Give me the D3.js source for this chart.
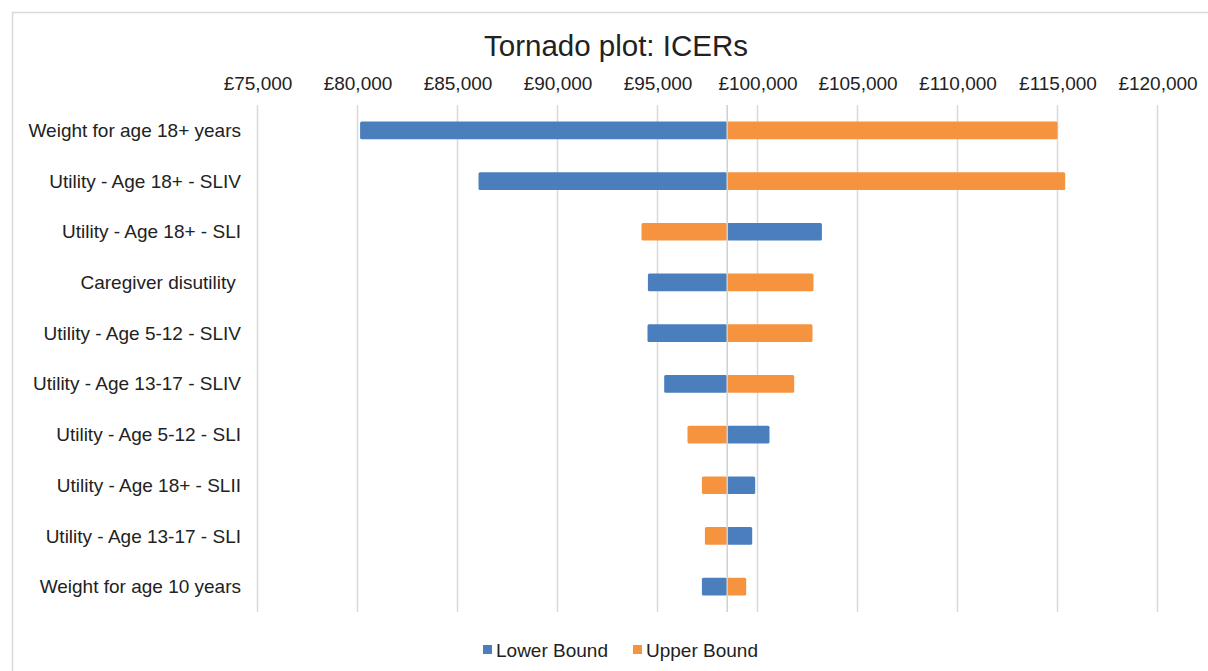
<!DOCTYPE html>
<html>
<head>
<meta charset="utf-8">
<script src="https://cdn.jsdelivr.net/npm/d3@7"></script>
<style>
  html, body { margin: 0; padding: 0; background: #ffffff; }
  svg { display: block; }
  text { font-family: "Liberation Sans", Arial, sans-serif; fill: #222222; white-space: pre; }
</style>
</head>
<body>
<svg id="chart" width="1208" height="671"></svg>
<script>
const title = "Tornado plot: ICERs";
const categories = [
  "Weight for age 18+ years",
  "Utility - Age 18+ - SLIV",
  "Utility - Age 18+ - SLI",
  "Caregiver disutility ",
  "Utility - Age 5-12 - SLIV",
  "Utility - Age 13-17 - SLIV",
  "Utility - Age 5-12 - SLI",
  "Utility - Age 18+ - SLII",
  "Utility - Age 13-17 - SLI",
  "Weight for age 10 years"
];
const lowerBound = [80130, 86050, 103220, 94520, 94500, 95335, 100600, 99885, 99735, 97220];
const upperBound = [115000, 115385, 94200, 102800, 102750, 101835, 96500, 97220, 97370, 99435];
const baseCase = 98485;
const tickValues = [75000, 80000, 85000, 90000, 95000, 100000, 105000, 110000, 115000, 120000];
const seriesNames = ["Lower Bound", "Upper Bound"];
const seriesColors = ["#4a7ebd", "#f5933f"];

const svg = d3.select("#chart");
const W = 1208, H = 671;
const plot = { left: 257.5, right: 1157.5, top: 105, bottom: 612 };
const FS = "19px";

// frame
svg.append("rect").attr("x", 12.5).attr("y", 12.5).attr("width", W + 20).attr("height", H + 20)
  .attr("fill", "none").attr("stroke", "#d9d9d9").attr("stroke-width", 1.5);

const x = d3.scaleLinear().domain([75000, 120000]).range([plot.left, plot.right]);
const y = d3.scaleBand().domain(categories).range([plot.top, plot.bottom]).paddingInner(0.65).paddingOuter(0.325);

// gridlines
svg.append("g").selectAll("line").data(tickValues).join("line")
  .attr("x1", d => x(d)).attr("x2", d => x(d))
  .attr("y1", plot.top).attr("y2", plot.bottom)
  .attr("stroke", "#d9d9d9").attr("stroke-width", 1.5);

// top axis labels
const fmt = v => "£" + d3.format(",")(v);
const xAxis = d3.axisTop(x).tickValues(tickValues).tickFormat(fmt).tickSize(0).tickPadding(0);
const gx = svg.append("g").attr("transform", `translate(0,${90})`).call(xAxis);
gx.select(".domain").remove();
gx.selectAll("text").attr("font-size", FS).attr("fill", "#222")
  .attr("font-family", "'Liberation Sans', Arial, sans-serif").attr("dy", 0);

// bars
const rows = categories.map((c, i) => ({ c, lo: lowerBound[i], hi: upperBound[i] }));
const barG = svg.append("g");
[ ["lo", 0], ["hi", 1] ].forEach(([key, si]) => {
  barG.selectAll(".b" + key).data(rows).join("rect")
    .attr("x", d => Math.min(x(d[key]), x(baseCase)))
    .attr("width", d => Math.abs(x(d[key]) - x(baseCase)))
    .attr("y", d => y(d.c))
    .attr("height", y.bandwidth())
    .attr("rx", 1.5)
    .attr("fill", seriesColors[si]);
});

// vertical axis (base line)
svg.append("line").attr("x1", x(baseCase)).attr("x2", x(baseCase))
  .attr("y1", plot.top).attr("y2", plot.bottom)
  .attr("stroke", "#d0d0d0").attr("stroke-width", 1.5);

// category labels
const yAxis = d3.axisLeft(y).tickSize(0).tickPadding(0);
const gy = svg.append("g").attr("transform", `translate(241,0.5)`).call(yAxis);
gy.select(".domain").remove();
gy.selectAll("text").attr("font-size", FS).attr("fill", "#222")
  .attr("font-family", "'Liberation Sans', Arial, sans-serif")
  .style("white-space", "pre");

// title
svg.append("text").attr("x", 616).attr("y", 56).attr("text-anchor", "middle")
  .attr("font-size", "29.5px").attr("fill", "#111").text(title);

// legend
const legendItems = [
  { name: seriesNames[0], color: seriesColors[0], x: 483 },
  { name: seriesNames[1], color: seriesColors[1], x: 633 }
];
const lg = svg.append("g");
legendItems.forEach(it => {
  lg.append("rect").attr("x", it.x).attr("y", 645).attr("width", 9).attr("height", 9).attr("fill", it.color);
  lg.append("text").attr("x", it.x + 13).attr("y", 656.5).attr("font-size", FS).text(it.name);
});
</script>
</body>
</html>
